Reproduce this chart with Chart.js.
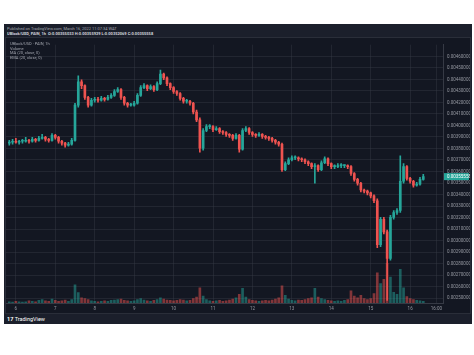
<!DOCTYPE html>
<html>
<head>
<meta charset="utf-8">
<script src="https://cdn.jsdelivr.net/npm/chart.js@4.4.1/dist/chart.umd.min.js"></script>
<style>
html, body { margin:0; padding:0; background:#fff; width:474px; height:355px; overflow:hidden;
  font-family: Roboto, "DejaVu Sans", sans-serif; }
#panel { position:absolute; left:4px; top:24px; width:468px; height:300px; background:#1b1f2b; }
.t { position:absolute; white-space:nowrap; transform-origin:0 0; transform:scale(.5);
  font-size:8px; line-height:10px; color:#a3a6af; }
#frame { position:absolute; left:6px; top:38px; width:464px; height:275px; background:#131722;
  box-shadow: 0 0 0 1px #2a2e39; }
</style>
</head>
<body>
<div id="panel"></div>
<div class="t" style="left:7px;top:25.5px">Published on TradingView.com, March 16, 2022 11:07:34 WAT</div>
<div class="t" style="left:7px;top:30.5px;color:#d1d4dc;font-weight:bold">UBlock/USD, PAIN, 1h &nbsp;O:0.00355033 H:0.00355929 L:0.00352069 C:0.00355558</div>
<div id="frame"><canvas id="c"></canvas></div>
<div class="t" style="left:10px;top:41px">UBlock/USD · PAIN, 1h</div>
<div class="t" style="left:10px;top:45.5px">Volume</div>
<div class="t" style="left:10px;top:50px">MA (20, close, 0)</div>
<div class="t" style="left:10px;top:54.5px">EMA (20, close, 0)</div>
<div class="t" style="left:7px;top:316.5px;color:#fff;font-size:11px;font-weight:bold">17 <span style="font-weight:normal">TradingView</span></div>
<script>
'use strict';

/* ── ticks ── */
var dayTicks     = ['6','7','8','9','10','11','12','13','14','15','16','16:00'];
var dayTickHours = [0, 24, 48, 72, 96, 120, 144, 168, 192, 216, 240, 256];
var priceTicks = [0.0046,0.0045,0.0044,0.0043,0.0042,0.0041,0.0040,0.0039,0.0038,0.0037,0.0036,
                  0.0035,0.0034,0.0033,0.0032,0.0031,0.0030,0.0029,0.0028,0.0027,0.0026,0.0025];

/* ── candles (hours from Mar 6 00:00) ── */
var FIRST_HOUR = -4, STEP_HOURS = 2;

var opens = [
0.003846,0.003854,0.003863,0.003854,0.003863,0.003863,0.003871,0.003863,0.003880,0.003871,
0.003888,0.003897,0.003880,0.003871,0.003914,0.003897,0.003863,0.003846,0.003829,0.003837,
0.003871,0.004176,0.004380,0.004346,0.004244,0.004176,0.004219,0.004227,0.004219,0.004236,
0.004227,0.004244,0.004261,0.004295,0.004312,0.004244,0.004193,0.004176,0.004176,0.004193,
0.004261,0.004329,0.004346,0.004320,0.004337,0.004312,0.004363,0.004447,0.004414,0.004363,
0.004329,0.004295,0.004278,0.004236,0.004210,0.004210,0.004193,0.004117,0.004049,0.003803,
0.003956,0.003990,0.003990,0.003964,0.003973,0.003947,0.003939,0.003922,0.003914,0.003888,
0.003914,0.003795,0.003956,0.003973,0.003939,0.003922,0.003914,0.003922,0.003905,0.003897,
0.003888,0.003871,0.003854,0.003837,0.003617,0.003668,0.003702,0.003719,0.003719,0.003710,
0.003702,0.003685,0.003668,0.003642,0.003651,0.003617,0.003676,0.003710,0.003668,0.003642,
0.003642,0.003651,0.003651,0.003651,0.003642,0.003583,0.003532,0.003498,0.003439,0.003430,
0.003414,0.003388,0.003346,0.002964,0.003185,0.003075,0.002846,0.003202,0.003244,0.003261,
0.003515,0.003642,0.003541,0.003515,0.003481,0.003490,0.003532];

var closes = [
0.003854,0.003863,0.003854,0.003863,0.003863,0.003871,0.003863,0.003880,0.003871,0.003888,
0.003897,0.003880,0.003871,0.003914,0.003897,0.003863,0.003846,0.003829,0.003837,0.003871,
0.004176,0.004380,0.004346,0.004244,0.004176,0.004219,0.004227,0.004219,0.004236,0.004227,
0.004244,0.004261,0.004295,0.004312,0.004244,0.004193,0.004176,0.004176,0.004193,0.004261,
0.004329,0.004346,0.004320,0.004337,0.004312,0.004363,0.004447,0.004414,0.004363,0.004329,
0.004295,0.004278,0.004236,0.004210,0.004210,0.004193,0.004117,0.004049,0.003803,0.003956,
0.003990,0.003990,0.003964,0.003973,0.003947,0.003939,0.003922,0.003914,0.003888,0.003914,
0.003795,0.003956,0.003973,0.003939,0.003922,0.003914,0.003922,0.003905,0.003897,0.003888,
0.003871,0.003854,0.003837,0.003617,0.003668,0.003702,0.003719,0.003719,0.003710,0.003702,
0.003685,0.003668,0.003642,0.003651,0.003617,0.003676,0.003710,0.003668,0.003642,0.003642,
0.003651,0.003651,0.003651,0.003642,0.003583,0.003532,0.003498,0.003439,0.003430,0.003414,
0.003388,0.003346,0.002964,0.003185,0.003075,0.002846,0.003202,0.003244,0.003261,0.003515,
0.003642,0.003541,0.003515,0.003481,0.003490,0.003532,0.00355558];

var highs = [
0.003871,0.003880,0.003888,0.003871,0.003880,0.003897,0.003880,0.003897,0.003888,0.003905,
0.003922,0.003905,0.003888,0.003930,0.003922,0.003905,0.003871,0.003854,0.003854,0.003888,
0.004193,0.004431,0.004397,0.004354,0.004253,0.004236,0.004244,0.004244,0.004253,0.004244,
0.004261,0.004278,0.004312,0.004329,0.004320,0.004253,0.004202,0.004193,0.004210,0.004278,
0.004346,0.004363,0.004354,0.004354,0.004346,0.004380,0.004481,0.004456,0.004422,0.004371,
0.004337,0.004303,0.004286,0.004244,0.004227,0.004219,0.004202,0.004134,0.004066,0.003973,
0.004007,0.004007,0.003998,0.003990,0.003981,0.003956,0.003947,0.003930,0.003922,0.003930,
0.003922,0.003973,0.003990,0.003981,0.003947,0.003930,0.003939,0.003930,0.003914,0.003905,
0.003897,0.003880,0.003863,0.003846,0.003685,0.003719,0.003736,0.003736,0.003727,0.003719,
0.003710,0.003693,0.003676,0.003668,0.003659,0.003693,0.003727,0.003719,0.003676,0.003659,
0.003668,0.003668,0.003659,0.003659,0.003651,0.003591,0.003541,0.003507,0.003447,0.003439,
0.003422,0.003397,0.003363,0.003202,0.003202,0.003092,0.003219,0.003261,0.003278,0.003736,
0.003668,0.003651,0.003549,0.003524,0.003507,0.003549,0.003575];

var lows = [
0.003829,0.003837,0.003846,0.003837,0.003846,0.003854,0.003846,0.003854,0.003854,0.003863,
0.003880,0.003863,0.003854,0.003863,0.003880,0.003846,0.003829,0.003812,0.003820,0.003829,
0.003863,0.004159,0.004320,0.004227,0.004159,0.004168,0.004202,0.004202,0.004210,0.004210,
0.004219,0.004236,0.004253,0.004286,0.004227,0.004176,0.004159,0.004168,0.004168,0.004185,
0.004253,0.004320,0.004303,0.004312,0.004295,0.004303,0.004354,0.004397,0.004346,0.004312,
0.004278,0.004261,0.004219,0.004193,0.004193,0.004176,0.004100,0.004032,0.003769,0.003786,
0.003947,0.003973,0.003947,0.003956,0.003930,0.003922,0.003905,0.003897,0.003871,0.003880,
0.003769,0.003786,0.003947,0.003922,0.003905,0.003897,0.003905,0.003888,0.003880,0.003871,
0.003854,0.003837,0.003820,0.003600,0.003608,0.003659,0.003693,0.003702,0.003693,0.003685,
0.003668,0.003651,0.003625,0.003498,0.003600,0.003608,0.003668,0.003651,0.003625,0.003625,
0.003634,0.003634,0.003634,0.003625,0.003566,0.003515,0.003481,0.003422,0.003414,0.003397,
0.003371,0.003329,0.002939,0.002947,0.003058,0.002481,0.002829,0.003185,0.003227,0.003244,
0.003498,0.003524,0.003498,0.003464,0.003473,0.003481,0.003524];

var volumes = [
3,2,4,3,2,3,5,4,3,6,
8,5,4,9,6,4,5,7,4,8,
42,24,12,10,8,5,4,3,4,5,
4,6,7,8,9,6,5,4,5,8,
10,7,5,4,6,8,12,9,7,6,
5,6,8,7,5,6,10,14,35,16,
8,5,4,5,6,4,5,7,9,12,
20,34,14,8,6,5,4,5,6,5,
7,9,12,40,18,9,6,5,7,6,
8,10,12,34,14,10,8,6,5,4,
5,4,6,8,28,16,12,18,10,8,
10,22,70,45,55,92,60,25,20,78,
35,15,10,8,6,5,4];

var UP = '#26a69a', DOWN = '#ef5350';
var UP_VOL = 'rgba(38,166,154,.5)', DOWN_VOL = 'rgba(239,83,80,.5)';

var hours = closes.map(function(_, i){ return FIRST_HOUR + STEP_HOURS * i; });
var isUp  = closes.map(function(c, i){ return c >= opens[i]; });
var candleCol = isUp.map(function(u){ return u ? UP : DOWN; });
var volCol    = isUp.map(function(u){ return u ? UP_VOL : DOWN_VOL; });

/* ── etiqueta del último precio ── */
var lastTag = {
  id: 'lastTag',
  afterDraw: function(chart){
    var last = closes[closes.length - 1];
    var y = chart.scales.y.getPixelForValue(last);
    var a = chart.chartArea, ctx = chart.ctx;
    ctx.save();
    ctx.fillStyle = UP;
    ctx.fillRect(a.right + 1, y - 3.5, chart.width - a.right - 2, 7);
    ctx.fillStyle = '#fff';
    ctx.font = '4.5px Roboto';
    ctx.textBaseline = 'middle';
    ctx.fillText(last.toFixed(8), a.right + 4, y + 0.3);
    ctx.restore();
  }
};

var gridCol = 'rgba(54,58,69,.45)';

new Chart(document.getElementById('c'), {
  type: 'bar',
  data: {
    datasets: [
      { label: 'wick', data: hours.map(function(h, i){ return { x: h, y: [lows[i], highs[i]] }; }),
        backgroundColor: candleCol, barThickness: 1, grouped: false, order: 2 },
      { label: 'body', data: hours.map(function(h, i){ return { x: h, y: [opens[i], closes[i]] }; }),
        backgroundColor: candleCol, barThickness: 2, minBarLength: 1, grouped: false, order: 1 },
      { label: 'vol', data: hours.map(function(h, i){ return { x: h, y: volumes[i] }; }),
        backgroundColor: volCol, barThickness: 2, grouped: false, order: 3, yAxisID: 'yv' }
    ]
  },
  options: {
    responsive: true,
    maintainAspectRatio: false,
    animation: false,
    layout: { padding: 0 },
    plugins: { legend: { display: false }, tooltip: { enabled: false } },
    scales: {
      x: {
        type: 'linear', min: -6, max: 260, offset: false,
        afterBuildTicks: function(ax){ ax.ticks = dayTickHours.map(function(v){ return { value: v }; }); },
        afterFit: function(ax){ ax.height = 10; },
        grid: { color: gridCol, drawTicks: false, offset: false },
        border: { color: '#363a45' },
        ticks: { color: '#9598a1', font: { size: 4.5, family: 'Roboto' }, padding: 3, maxRotation: 0, autoSkip: false,
          callback: function(v){ var k = dayTickHours.indexOf(v); return k >= 0 ? dayTicks[k] : ''; } }
      },
      y: {
        position: 'right', min: 0.0024577, max: 0.0047016,
        afterBuildTicks: function(ax){ ax.ticks = priceTicks.map(function(v){ return { value: v }; }); },
        afterFit: function(ax){ ax.width = 27; },
        grid: { color: gridCol, drawTicks: false },
        border: { color: '#363a45' },
        ticks: { color: '#9598a1', font: { size: 4.5, family: 'Roboto' }, padding: 4,
          callback: function(v){ return Number(v).toFixed(8); } }
      },
      yv: { display: false, min: 0, max: 600 }
    }
  },
  plugins: [lastTag]
});
</script>
</body>
</html>
